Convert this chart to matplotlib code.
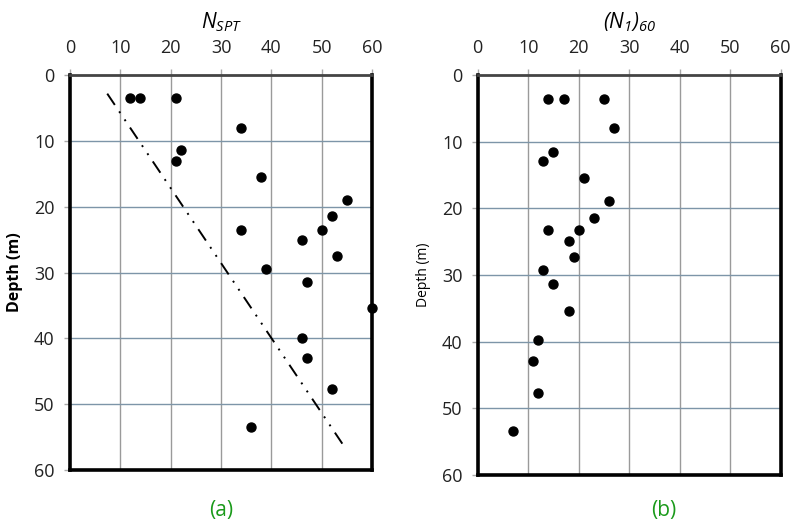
import matplotlib
matplotlib.use('Agg')
import matplotlib.pyplot as plt

plt.rcParams['font.family'] = ['Open Sans', 'DejaVu Sans']
# mathtext only used for the two axis titles, both fully italic
plt.rcParams['mathtext.fontset'] = 'custom'
plt.rcParams['mathtext.it'] = 'Open Sans:italic'
plt.rcParams['mathtext.rm'] = 'Open Sans:italic'

# (a) N_SPT vs depth
nspt = [12, 14, 21, 34, 22, 21, 38, 55, 52, 50, 34, 46, 53, 39, 47, 60, 46, 47, 52, 36]
depth_a = [3.5, 3.5, 3.5, 8.0, 11.4, 13.0, 15.5, 18.9, 21.4, 23.5, 23.5, 25.0, 27.5,
           29.5, 31.5, 35.4, 39.9, 43.0, 47.7, 53.4]

# trend line end points
trend_x = [7.4, 54.1]
trend_y = [2.8, 56.0]

# (b) (N1)60 vs depth
n160 = [14, 17, 25, 27, 15, 13, 21, 26, 23, 14, 20, 18, 19, 13, 15, 18, 12, 11, 12, 7]
depth_b = [3.5, 3.5, 3.5, 7.9, 11.5, 12.9, 15.5, 18.9, 21.5, 23.3, 23.3, 24.9, 27.3,
           29.3, 31.4, 35.4, 39.8, 42.9, 47.7, 53.4]

xticks = [0, 10, 20, 30, 40, 50, 60]
yticks = [0, 10, 20, 30, 40, 50, 60]


def style_axes(ax):
  ax.set_xlim(0, 60)
  ax.set_ylim(60, 0)
  ax.set_xticks(xticks)
  ax.set_yticks(yticks)
  ax.xaxis.tick_top()
  ax.xaxis.set_label_position('top')
  ax.tick_params(labelsize=13, colors='#222222', length=4, width=1, direction='out',
                 color='#aaaaaa')
  ax.tick_params(axis='x', pad=9)
  ax.tick_params(axis='y', pad=7)
  for v in xticks[1:-1]:
    ax.axvline(v, color='#9a9a9a', lw=1.0, zorder=0)
  for v in yticks[1:-1]:
    ax.axhline(v, color='#7d95a8', lw=1.0, zorder=0)
  for s in ['left', 'bottom', 'right']:
    ax.spines[s].set_linewidth(2.6)
    ax.spines[s].set_color('black')
  ax.spines['top'].set_linewidth(2.0)
  ax.spines['top'].set_color('#444444')


fig = plt.figure(figsize=(7.9, 5.26), dpi=100)
ax1 = fig.add_axes([0.0886, 0.1065, 0.3823, 0.7505])
ax2 = fig.add_axes([0.6047, 0.097, 0.3835, 0.760])

style_axes(ax1)
ax1.scatter(nspt, depth_a, s=42, color='black', zorder=3, clip_on=False)
ax1.plot(trend_x, trend_y, color='black', lw=1.4, dashes=[7, 4, 1, 4, 1, 4], zorder=2)
ax1.set_xlabel(r'$N_{SPT}$', fontsize=15, labelpad=8)
ax1.set_ylabel('Depth (m)', fontsize=11.5, fontweight='bold', labelpad=8)
fig.text(0.2797, 0.03, '(a)', color='#1a9a1a', fontsize=15, ha='center', va='center')

style_axes(ax2)
ax2.scatter(n160, depth_b, s=42, color='black', zorder=3, clip_on=False)
ax2.set_xlabel(r'$(N_{1})_{60}$', fontsize=15, labelpad=8)
ax2.set_ylabel('Depth (m)', fontsize=10, labelpad=8)
fig.text(0.8405, 0.03, '(b)', color='#1a9a1a', fontsize=15, ha='center', va='center')

fig.savefig('out.png', dpi=100)
